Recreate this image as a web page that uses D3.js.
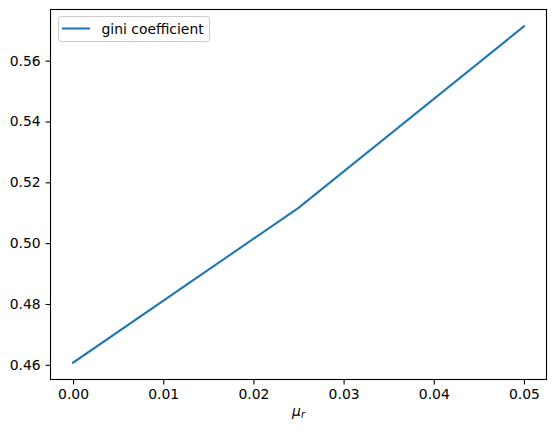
<!DOCTYPE html>
<html>
<head>
<meta charset="utf-8">
<script src="https://cdn.jsdelivr.net/npm/d3@7"></script>
<style>
  body { margin: 0; background: #fff; }
  text { font-family: "DejaVu Sans", sans-serif; }
</style>
</head>
<body>
<div id="chart"></div>
<script>
// data
var muR = [0.0, 0.025, 0.05];
var gini = [0.4607, 0.5116, 0.5713];
var xTicks = [0.00, 0.01, 0.02, 0.03, 0.04, 0.05];
var yTicks = [0.46, 0.48, 0.50, 0.52, 0.54, 0.56];
var seriesName = "gini coefficient";

var W = 556, H = 433;
// half-pixel offsets keep the frame crisp
var margin = { top: 9.5, left: 50.5 },
    width = 496,
    height = 370;

var svg = d3.select("#chart")
  .append("svg")
  .attr("width", W)
  .attr("height", H)
  .append("g")
  .attr("transform", "translate(" + margin.left + "," + margin.top + ")");

// matplotlib-like 5% margins
var xr = d3.extent(muR), yr = d3.extent(gini);
var xpad = (xr[1] - xr[0]) * 0.05, ypad = (yr[1] - yr[0]) * 0.05;

var x = d3.scaleLinear()
  .domain([xr[0] - xpad, xr[1] + xpad])
  .range([0, width]);
var y = d3.scaleLinear()
  .domain([yr[0] - ypad, yr[1] + ypad])
  .range([height, 0]);

var fs = "13.9px";

// x axis
var xAxis = svg.append("g")
  .attr("transform", "translate(0," + height + ")")
  .call(d3.axisBottom(x).tickValues(xTicks).tickFormat(d3.format(".2f")).tickSize(4.9).tickPadding(4.9));
xAxis.select(".domain").remove();
xAxis.selectAll("line").attr("stroke", "#000").attr("stroke-width", 1.1);
xAxis.selectAll("text").style("font-size", fs).attr("fill", "#000")
  .style("font-family", "DejaVu Sans");

// y axis
var yAxis = svg.append("g")
  .call(d3.axisLeft(y).tickValues(yTicks).tickFormat(d3.format(".2f")).tickSize(4.9).tickPadding(4.9));
yAxis.select(".domain").remove();
yAxis.selectAll("line").attr("stroke", "#000").attr("stroke-width", 1.1);
yAxis.selectAll("text").style("font-size", fs).attr("fill", "#000")
  .style("font-family", "DejaVu Sans");

// the line
var pts = muR.map(function(d, i) { return [d, gini[i]]; });
svg.append("path")
  .datum(pts)
  .attr("fill", "none")
  .attr("stroke", "#1f77b4")
  .attr("stroke-width", 2.08)
  .attr("stroke-linecap", "square")
  .attr("d", d3.line()
    .x(function(d) { return x(d[0]); })
    .y(function(d) { return y(d[1]); }));

// frame
svg.append("rect")
  .attr("x", 0).attr("y", 0)
  .attr("width", width).attr("height", height)
  .attr("fill", "none")
  .attr("stroke", "#000")
  .attr("stroke-width", 1.1);

// x label: mu_r
var xl = svg.append("text")
  .attr("x", width / 2)
  .attr("y", height + 36)
  .attr("text-anchor", "middle")
  .style("font-size", fs);
xl.append("tspan").style("font-style", "italic").text("\u03bc");
xl.append("tspan").style("font-style", "italic").style("font-size", "9.7px")
  .attr("dy", 2.5).text("r");

// legend
var leg = svg.append("g").attr("transform", "translate(8,7)");
leg.append("rect")
  .attr("width", 151).attr("height", 25)
  .attr("rx", 2.8).attr("ry", 2.8)
  .attr("fill", "#fff").attr("fill-opacity", 0.8)
  .attr("stroke", "#cccccc").attr("stroke-width", 1);
leg.append("line")
  .attr("x1", 3.5).attr("x2", 31.5)
  .attr("y1", 12).attr("y2", 12)
  .attr("stroke", "#1f77b4").attr("stroke-width", 2.08);
leg.append("text")
  .attr("x", 43).attr("y", 17)
  .style("font-size", fs)
  .text(seriesName);
</script>
</body>
</html>
